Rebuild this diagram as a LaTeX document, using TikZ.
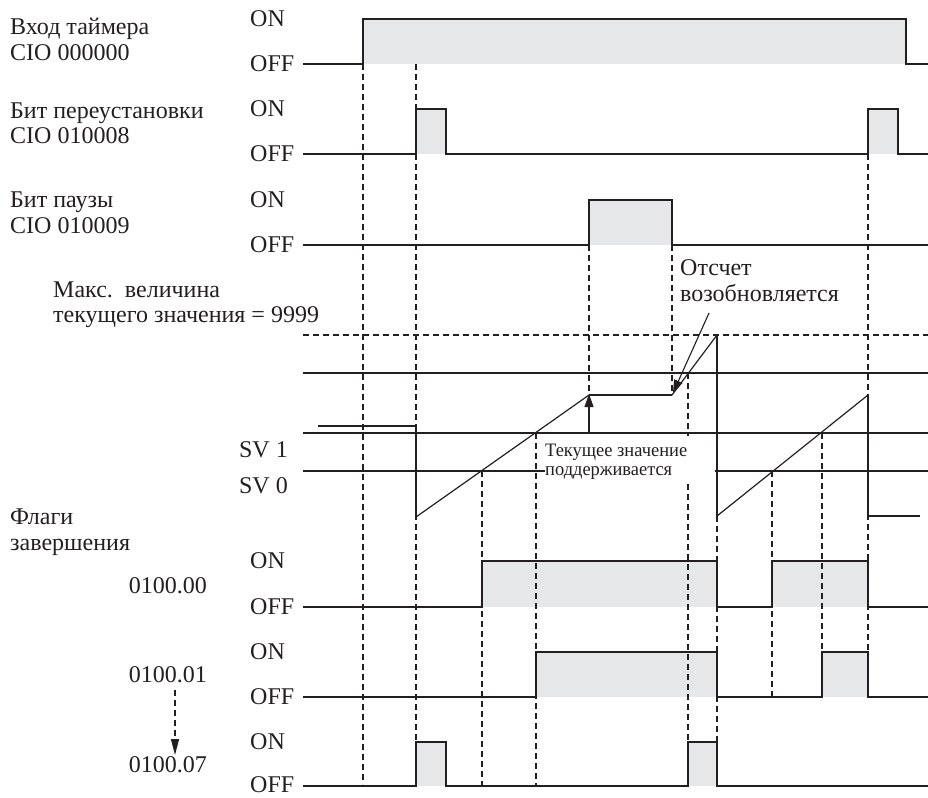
\documentclass[tikz,border=0pt]{standalone}
\usepackage{fontspec}
\setmainfont{Liberation Serif}
\usetikzlibrary{arrows.meta}
\definecolor{ink}{RGB}{35,31,32}
\definecolor{sigfill}{RGB}{230,231,232}
\begin{document}
\begin{tikzpicture}[x=1pt,y=-1pt,
  sig/.style={draw=ink,line width=1.3pt,line join=miter},
  ramp/.style={draw=ink,line width=1.2pt,line cap=round},
  shade/.style={fill=sigfill},
  dsh/.style={draw=ink,line width=1.1pt,dash pattern=on 6pt off 4pt},
  hline/.style={draw=ink,line width=1.3pt},
  txt/.style={font=\fontsize{24}{26}\selectfont,text=ink,inner sep=0pt,anchor=base west},
  txtr/.style={font=\fontsize{24}{26}\selectfont,text=ink,inner sep=0pt,anchor=base east},
  small/.style={font=\fontsize{19}{20}\selectfont,text=ink,inner sep=0pt,anchor=base west},
  onoff/.style={font=\fontsize{24}{26}\selectfont,text=ink,inner sep=0pt,anchor=west},
  tip/.style={-{Triangle[length=13pt,width=9pt]}},
]
\useasboundingbox (0,0) rectangle (928,797);

% ---------- gray fills ----------
\fill[shade] (363,19) rectangle (906,64);
\fill[shade] (416,109) rectangle (446,154);
\fill[shade] (868,109) rectangle (898,154);
\fill[shade] (589,200) rectangle (672,245);
\fill[shade] (482,561) rectangle (717,607);
\fill[shade] (772,561) rectangle (868,607);
\fill[shade] (536,652) rectangle (717,697);
\fill[shade] (822,652) rectangle (868,697);
\fill[shade] (416,742) rectangle (446,786);
\fill[shade] (688,742) rectangle (717,786);

% ---------- dashed guides ----------
\draw[dsh] (363,64) -- (363,784);
\draw[dsh] (416,64) -- (416,742);
\draw[dsh] (482,471) -- (482,786);
\draw[dsh] (536,433) -- (536,786);
\draw[dsh] (589,245) -- (589,395);
\draw[dsh] (672,245) -- (672,395);
\draw[dsh] (688,373) -- (688,436);
\draw[dsh] (688,484) -- (688,742);
\draw[dsh] (717,516) -- (717,786);
\draw[dsh] (772,471) -- (772,697);
\draw[dsh] (822,433) -- (822,652);
\draw[dsh] (868,154) -- (868,697);
\draw[dsh] (303,335) -- (928,335);

% ---------- input signals ----------
\draw[sig] (303,64) -| (363,19) -| (906,64) -- (928,64);
\draw[sig] (303,154) -| (416,109) -| (446,154) -| (868,109) -| (898,154) -- (928,154);
\draw[sig] (303,245) -| (589,200) -| (672,245) -- (928,245);

% ---------- present value area ----------
\draw[hline] (303,373) -- (928,373);
\draw[hline] (303,433) -- (928,433);
\draw[hline] (303,471) -- (545,471);
\draw[hline] (715,471) -- (928,471);
\coordinate (p0) at (318,426);
\coordinate (p1) at (416,426);
\coordinate (p2) at (416,517);
\coordinate (p3) at (589,395);
\coordinate (p4) at (672,395);
\coordinate (p5) at (717,335);
\coordinate (p6) at (717,516);
\coordinate (p7) at (868,395);
\coordinate (p8) at (868,516);
\coordinate (p9) at (920,516);
\draw[sig] (p0) -- (p1) -- (p2);
\draw[ramp] (p2) -- (p3);
\draw[sig] (p3) -- (p4);
\draw[ramp] (p4) -- (p5);
\draw[sig] (p5) -- (p6);
\draw[ramp] (p6) -- (p7);
\draw[sig] (p7) -- (p8) -- (p9);

% ---------- completion flags ----------
\draw[sig] (303,607) -| (482,561) -| (717,607) -| (772,561) -| (868,607) -- (928,607);
\draw[sig] (303,697) -| (536,652) -| (717,697) -| (822,652) -| (868,697) -- (928,697);
\draw[sig] (303,786) -| (416,742) -| (446,786) -| (688,742) -| (717,786) -- (928,786);

% ---------- ON / OFF labels ----------
\foreach \on/\off [count=\i] in {19/64,109/154,200/245,561/607,652/697,742/785}{
  \node[onoff] (on\i) at (250,\on) {ON};
  \node[onoff] (off\i) at (250,\off) {OFF};
}

% ---------- left labels ----------
\node[txt] (in1) at (10,35) {Вход таймера};
\node[txt] (in2) at (10,61) {CIO 000000};
\node[txt] (rs1) at (10,118) {Бит переустановки};
\node[txt] (rs2) at (10,143) {CIO 010008};
\node[txt] (pa1) at (10,207) {Бит паузы};
\node[txt] (pa2) at (10,233) {CIO 010009};
\node[txt] (mx1) at (53,297) {Макс.\ \ величина};
\node[txt] (mx2) at (53,322) {текущего значения = 9999};
\node[txtr] (sv1) at (288,457) {SV 1};
\node[txtr] (sv0) at (288,493) {SV 0};
\node[txt] (fl1) at (10,524) {Флаги};
\node[txt] (fl2) at (10,550) {завершения};
\node[txtr] (f00) at (207,593) {0100.00};
\node[txtr] (f01) at (207,682) {0100.01};
\node[txtr] (f07) at (207,772) {0100.07};
\coordinate (da) at (175,690);
\coordinate (db) at (175,755);
\draw[draw=ink,line width=1.1pt,dash pattern=on 6pt off 4pt,-{Triangle[length=16pt,width=8pt]}]
  (da) -- (db);

% ---------- annotations ----------
\node[txt] (rc1) at (680,275) {Отсчет};
\node[txt] (rc2) at (680,301) {возобновляется};
\coordinate (rcfrom) at (709,313);
\draw[draw=ink,line width=1.1pt,tip] (rcfrom) -- ([shift={(1,-2)}]p4);

\node[small] (hv1) at (545,456) {\resizebox{142pt}{\height}{Текущее значение}};
\node[small] (hv2) at (545,475) {\resizebox{127pt}{\height}{поддерживается}};
\coordinate (hvfrom) at (589,433);
\draw[draw=ink,line width=1.1pt,tip] (hvfrom) -- ([yshift=1pt]p3);
\end{tikzpicture}
\end{document}
